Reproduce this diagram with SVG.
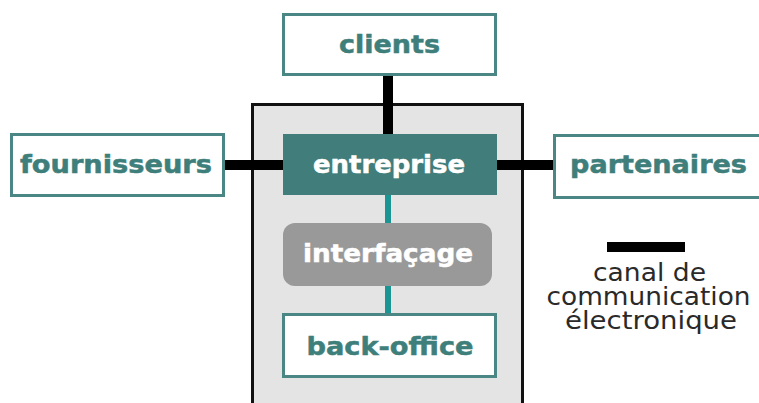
<svg xmlns="http://www.w3.org/2000/svg" width="759" height="403" viewBox="0 0 759 403">
  <style>
    .box { fill: #ffffff; stroke: #4a8784; stroke-width: 3; }
    .lbl { font-family: "DejaVu Sans", Verdana, sans-serif; font-weight: bold; font-size: 24px; text-anchor: middle; fill: #3f7f7b; stroke: #3f7f7b; stroke-width: 0.5; }
    .lbl-w { fill: #ffffff; stroke: #ffffff; }
    .chan { stroke: #000000; stroke-width: 10; fill: none; }
    .link { stroke: #1a9594; stroke-width: 6; fill: none; }
    .legend { font-family: "DejaVu Sans", Verdana, sans-serif; font-size: 24px; text-anchor: middle; fill: #2a2a2a; }
  </style>

  <rect width="759" height="403" fill="#ffffff"/>

  <!-- company boundary -->
  <g id="company">
    <rect x="252.5" y="104.5" width="270" height="310" fill="#e4e4e4" stroke="#111111" stroke-width="3"/>
  </g>

  <!-- connectors -->
  <g id="connectors">
    <line class="chan" x1="388" y1="75" x2="388" y2="135"/>
    <line class="chan" x1="224" y1="165" x2="283" y2="165"/>
    <line class="chan" x1="497" y1="165" x2="553" y2="165"/>
    <line class="link" x1="388" y1="195" x2="388" y2="224"/>
    <line class="link" x1="388" y1="286" x2="388" y2="314"/>
  </g>

  <g id="clients">
    <rect class="box" x="283.5" y="14.5" width="212" height="60"/>
    <text class="lbl" x="389.5" y="53" textLength="101" lengthAdjust="spacingAndGlyphs">clients</text>
  </g>

  <g id="fournisseurs">
    <rect class="box" x="11.5" y="134.5" width="212" height="61"/>
    <text class="lbl" x="116" y="173" textLength="192" lengthAdjust="spacingAndGlyphs">fournisseurs</text>
  </g>

  <g id="partenaires">
    <rect class="box" x="554.5" y="135.5" width="220" height="62"/>
    <text class="lbl" x="658.5" y="173" textLength="177" lengthAdjust="spacingAndGlyphs">partenaires</text>
  </g>

  <g id="entreprise">
    <rect x="283" y="134" width="214" height="61" fill="#417d7a"/>
    <text class="lbl lbl-w" x="389" y="173" textLength="152" lengthAdjust="spacingAndGlyphs">entreprise</text>
  </g>

  <g id="interfacage">
    <rect x="283" y="223" width="209" height="63" rx="12" ry="12" fill="#999999"/>
    <text class="lbl lbl-w" x="388" y="262" textLength="170" lengthAdjust="spacingAndGlyphs">interfaçage</text>
  </g>

  <g id="back-office">
    <rect class="box" x="283.5" y="314.5" width="212" height="62"/>
    <text class="lbl" x="390" y="355" textLength="167" lengthAdjust="spacingAndGlyphs">back-office</text>
  </g>

  <g id="legend">
    <line class="chan" x1="607" y1="247" x2="685" y2="247" stroke-width="9"/>
    <text class="legend"><tspan x="649.5" y="281" textLength="113" lengthAdjust="spacingAndGlyphs">canal de</tspan><tspan x="648.5" y="305" textLength="204" lengthAdjust="spacingAndGlyphs">communication</tspan><tspan x="651" y="329" textLength="172" lengthAdjust="spacingAndGlyphs">électronique</tspan></text>
  </g>
</svg>
